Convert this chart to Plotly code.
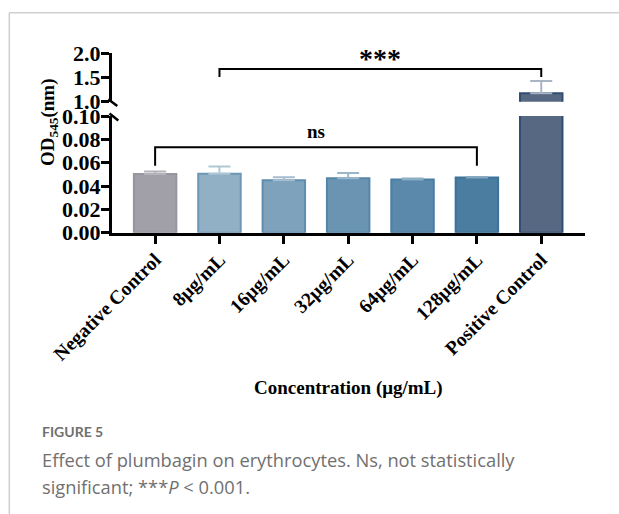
import plotly.graph_objects as go

W, H = 619, 514

categories = ["Negative Control", "8μg/mL", "16μg/mL", "32μg/mL", "64μg/mL", "128μg/mL", "Positive Control"]
means = [0.0504, 0.0505, 0.0450, 0.0467, 0.0455, 0.0472, 1.175]
errors = [0.0020, 0.0062, 0.0025, 0.0045, 0.0009, 0.0006, 0.255]
fill_colors = ["#a19fa8", "#92b0c5", "#7ea2bc", "#6b94b3", "#5a89ab", "#4a7da0", "#566882"]
edge_colors = ["#97959e", "#6c96b6", "#5f8db0", "#5586aa", "#4a7ea3", "#3f7299", "#304d73"]
err_colors = ["#b4b3bb", "#b0c7d6", "#a5bdce", "#9ab6ca", "#8eaec4", "#86a8c0", "#a9b4c4"]

def px(x):
    return x / W

def py(y):
    return 1 - y / H

fig = go.Figure()
for xa, ya in (("x", "y"), ("x2", "y2")):
    for c, m, e, fc, ec, erc in zip(categories, means, errors, fill_colors, edge_colors, err_colors):
        fig.add_trace(go.Bar(
            x=[c], y=[m], width=0.66, xaxis=xa, yaxis=ya,
            marker=dict(color=fc, line=dict(color=ec, width=2)),
            error_y=dict(type="data", array=[e], arrayminus=[0], symmetric=False,
                         color=erc, thickness=2, width=11),
            showlegend=False, hoverinfo="skip",
        ))

serif_bold = dict(family="Liberation Serif", size=22, color="black", weight="bold")

fig.update_layout(
    template="none",
    width=W, height=H,
    margin=dict(l=0, r=0, t=0, b=0, autoexpand=False),
    paper_bgcolor="white", plot_bgcolor="white",
    barmode="overlay", showlegend=False,
    xaxis=dict(domain=[px(112), px(585)], anchor="y", range=[-0.67, 6.68], automargin=False,
               categoryorder="array", categoryarray=categories,
               showline=True, linecolor="black", linewidth=3,
               ticks="outside", ticklen=8, tickwidth=2.5, tickcolor="black",
               tickangle=-45, ticklabelstandoff=-3,
               tickfont=dict(family="Liberation Serif", size=19.5, color="black", weight="bold"),
               showgrid=False, zeroline=False),
    xaxis2=dict(domain=[px(112), px(585)], anchor="y2", matches="x", visible=False, automargin=False,
                categoryorder="array", categoryarray=categories),
    yaxis=dict(domain=[py(232.7), py(116)], anchor="x", range=[0, 0.10], automargin=False,
               tickvals=[0, 0.02, 0.04, 0.06, 0.08, 0.10],
               ticktext=["0.00", "0.02", "0.04", "0.06", "0.08", "0.10"],
               showline=True, linecolor="black", linewidth=3,
               ticks="outside", ticklen=8, tickwidth=2.5, tickcolor="black", ticklabelstandoff=-4,
               tickfont=serif_bold, showgrid=False, zeroline=False),
    yaxis2=dict(domain=[py(101.7), py(53.3)], anchor="x2", range=[1.0, 2.0], automargin=False,
                tickvals=[1.0, 1.5, 2.0], ticktext=["1.0", "1.5", "2.0"],
                showline=True, linecolor="black", linewidth=3,
                ticks="outside", ticklen=8, tickwidth=2.5, tickcolor="black", ticklabelstandoff=-4,
                tickfont=serif_bold, showgrid=False, zeroline=False),
)

shapes = []
# significance brackets
for (x0, x1, ytop, ydrop, yref) in [(1, 6, 1.675, 1.51, "y2"), (0, 5, 0.0733, 0.0573, "y")]:
    shapes.append(dict(type="path", xref="x", yref=yref,
                       path=f"M {x0},{ydrop} L {x0},{ytop} L {x1},{ytop} L {x1},{ydrop}",
                       line=dict(color="black", width=2)))
# axis break marks
for (x0, y0, x1, y1) in [(108.3, 99.3, 117.3, 106), (109.5, 113.5, 118.3, 120.5)]:
    shapes.append(dict(type="line", xref="paper", yref="paper",
                       x0=px(x0), y0=py(y0), x1=px(x1), y1=py(y1),
                       line=dict(color="black", width=2.5)))
# page border
shapes.append(dict(type="line", xref="paper", yref="paper", x0=px(9), x1=1, y0=py(12.7), y1=py(12.7),
                   line=dict(color="#cfcfcf", width=1.5)))
shapes.append(dict(type="line", xref="paper", yref="paper", x0=px(9.3), x1=px(9.3), y0=0, y1=py(12.7),
                   line=dict(color="#cfcfcf", width=1.5)))
fig.update_layout(shapes=shapes)

def ann(text, x, y, font, xref="paper", xanchor="center", textangle=0):
    return dict(text=text, xref=xref, x=x, yref="paper", y=py(y), showarrow=False,
                xanchor=xanchor, yanchor="middle", textangle=textangle, font=font)

fb = lambda s: dict(family="Liberation Serif", size=s, color="black", weight="bold")
cap_font = dict(family="Open Sans", size=18.3, color="#707070")
annotations = [
    ann("***", 3.5, 58, fb(28), xref="x"),
    ann("ns", 2.5, 131, fb(19), xref="x"),
    ann("Concentration (μg/mL)", px(348), 388, fb(19)),
    ann("OD<sub>545</sub>(nm)", px(49), 122, fb(19), textangle=-90),
    ann("FIGURE 5", px(40), 431, dict(family="Lato", size=14, color="#707070", weight="bold"), xanchor="left"),
    ann("Effect of plumbagin on erythrocytes. Ns, not statistically", px(40), 459, cap_font, xanchor="left"),
    ann("significant; ***<i>P</i> &lt; 0.001.", px(40), 486, cap_font, xanchor="left"),
]
fig.update_layout(annotations=annotations)

fig.write_html("out.html", config={"displayModeBar": False},
               post_script="document.body.style.margin='0';")
